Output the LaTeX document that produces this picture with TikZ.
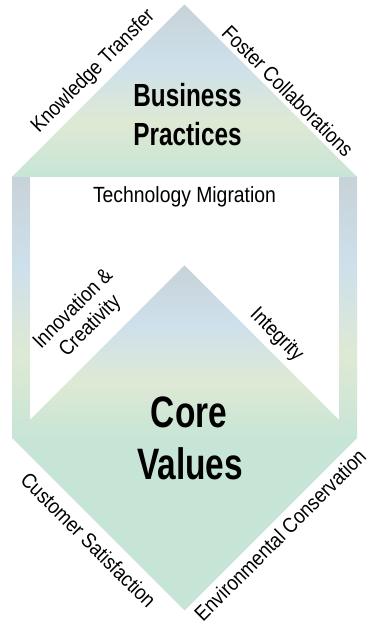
\documentclass[tikz,border=0pt]{standalone}
\usepackage{fontspec}
\usepackage{xcolor}
\usepackage{tikz}
\newfontfamily\condfont[FakeStretch=0.88]{Liberation Sans}
\newfontfamily\boldcond[FakeStretch=0.76]{Liberation Sans}
\definecolor{bpgrey}{RGB}{200,210,216}
\definecolor{bpblue}{RGB}{205,224,235}
\definecolor{bpyellow}{RGB}{222,233,212}
\definecolor{bpgreen}{RGB}{199,229,214}
\pgfdeclareverticalshading{pillar}{100bp}{color(0bp)=(bpgreen); color(25bp)=(bpgreen); color(41bp)=(bpyellow); color(58bp)=(bpblue); color(75bp)=(bpgrey); color(100bp)=(bpgrey)}

\begin{document}
\begin{tikzpicture}[x=1pt,y=1pt,
  sidetext/.style={font=\condfont\fontsize{21}{24}\selectfont, align=center, inner sep=1pt},
  titletext/.style={font=\boldcond\bfseries\fontsize{32}{38}\selectfont, anchor=base},
  coretext/.style={font=\boldcond\bfseries\fontsize{44}{50}\selectfont, anchor=base}]
\useasboundingbox (0,0) rectangle (368,626);
% pillars
\shade[shading=pillar] (12,188) rectangle (30,449);
\shade[shading=pillar] (339,188) rectangle (357,449);
% roof
\shade[shading=pillar] (12,449) -- (184.5,621.5) -- (357,449) -- cycle;
% core diamond
\shade[shading=pillar] (12,188) -- (184.5,360.5) -- (357,188) -- cycle;
\fill[bpgreen] (12,188) -- (184.5,15.5) -- (357,188) -- cycle;
% titles
\node[titletext] (business) at (187.5,519) {Business};
\node[titletext] (practices) at (187.5,480) {Practices};
\node[coretext] (core) at (189,198) {Core};
\node[coretext] (values) at (190,146) {Values};
% side labels
\node[sidetext, rotate=45] (knowledge) at (93.5,554.5) {Knowledge Transfer};
\node[sidetext, rotate=-45] (foster) at (288,535) {Foster Collaborations};
\node[sidetext, anchor=base, font=\condfont\fontsize{22}{26}\selectfont] (technology) at (184.5,423) {Technology Migration};
\node[sidetext, rotate=45] (innovation) at (82,308) {Innovation \&\\Creativity};
\node[sidetext, rotate=-45] (integrity) at (276.5,291) {Integrity};
\node[sidetext, rotate=-45] (customer) at (88.5,86) {Customer Satisfaction};
\node[sidetext, rotate=45] (environment) at (280,91) {Environmental Conservation};
\end{tikzpicture}
\end{document}
